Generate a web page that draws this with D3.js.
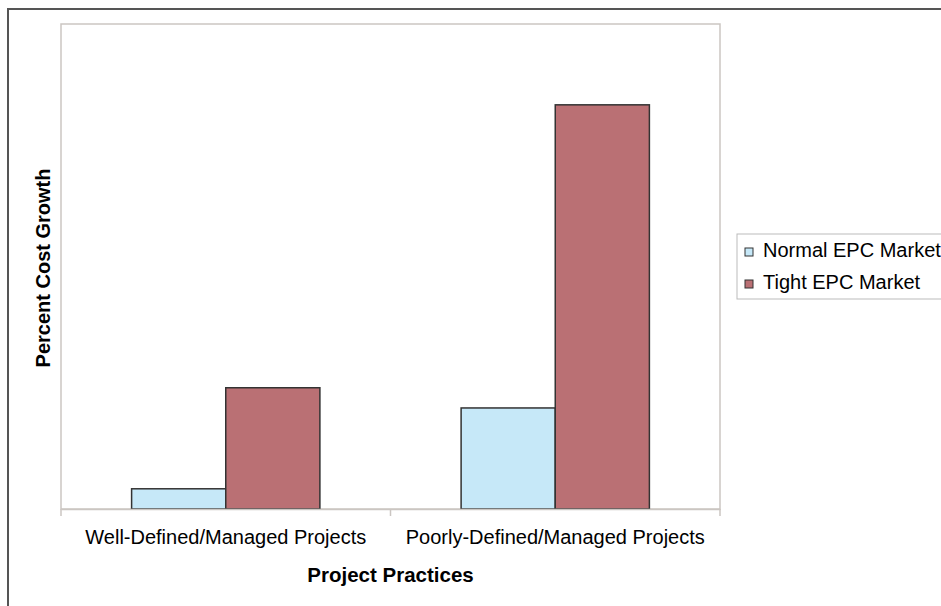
<!DOCTYPE html>
<html>
<head>
<meta charset="utf-8">
<script src="https://cdn.jsdelivr.net/npm/d3@7"></script>
<style>
  body { margin: 0; background: #fff; }
  text { font-family: "Liberation Sans", Arial, sans-serif; fill: #000; }
</style>
</head>
<body>
<svg id="chart" width="941" height="606"></svg>
<script>
// chart data
const categories = ["Well-Defined/Managed Projects", "Poorly-Defined/Managed Projects"];
const seriesNames = ["Normal EPC Market", "Tight EPC Market"];
const normalValues = [0.5, 2.5];
const tightValues = [3, 10];
const yMax = 12;

const colors = ["#c6e8f8", "#ba7074"];

const svg = d3.select("#chart");
const margin = { left: 61, top: 24, right: 221, bottom: 97 };
const width = 941 - margin.left - margin.right;
const height = 606 - margin.top - margin.bottom;

// outer frame
svg.append("rect")
  .attr("x", 8).attr("y", 9)
  .attr("width", 1000).attr("height", 1000)
  .attr("fill", "none")
  .attr("stroke", "#555")
  .attr("stroke-width", 2);

const g = svg.append("g").attr("transform", `translate(${margin.left},${margin.top})`);

const x0 = d3.scaleBand().domain(categories).range([0, width]);
const x1 = d3.scaleBand().domain(seriesNames)
  .range([0, x0.bandwidth()])
  .paddingOuter(0.75).paddingInner(0);
const y = d3.scaleLinear().domain([0, yMax]).range([height, 0]);

// plot area border
g.append("rect")
  .attr("width", width).attr("height", height)
  .attr("fill", "none")
  .attr("stroke", "#cbc6c2")
  .attr("stroke-width", 1.5);

const rows = categories.map((c, i) => ({ cat: c, vals: [normalValues[i], tightValues[i]] }));

const groups = g.selectAll("g.cat")
  .data(rows)
  .enter()
  .append("g")
  .classed("cat", true)
  .attr("transform", d => `translate(${x0(d.cat)},0)`);

groups.selectAll("rect")
  .data(d => d.vals.map((v, j) => ({ name: seriesNames[j], v: v, j: j })))
  .enter()
  .append("rect")
  .attr("x", d => x1(d.name))
  .attr("y", d => y(d.v))
  .attr("width", x1.bandwidth())
  .attr("height", d => height - y(d.v))
  .attr("fill", d => colors[d.j])
  .attr("stroke", "#333")
  .attr("stroke-width", 1.5);

// x axis
const xAxis = g.append("g")
  .attr("transform", `translate(0,${height})`)
  .call(d3.axisBottom(x0).tickSize(0).tickPadding(21));
xAxis.select(".domain").attr("stroke", "#cbc6c2").attr("stroke-width", 1.5);
xAxis.selectAll("text").style("font-size", "20px");

// tick marks between categories
const bounds = [0, x0.bandwidth(), width];
g.selectAll("line.tick-mark")
  .data(bounds)
  .enter()
  .append("line")
  .attr("x1", d => d).attr("x2", d => d)
  .attr("y1", height).attr("y2", height + 7)
  .attr("stroke", "#cbc6c2")
  .attr("stroke-width", 1.5);

// axis titles
svg.append("text")
  .attr("x", margin.left + width / 2)
  .attr("y", 582)
  .attr("text-anchor", "middle")
  .style("font-size", "20.5px")
  .style("font-weight", "bold")
  .text("Project Practices");

svg.append("text")
  .attr("transform", `translate(50,268) rotate(-90)`)
  .attr("text-anchor", "middle")
  .style("font-size", "20px")
  .style("font-weight", "bold")
  .text("Percent Cost Growth");

// legend
const legend = svg.append("g").attr("transform", "translate(737,234)");
legend.append("rect")
  .attr("width", 260).attr("height", 65)
  .attr("fill", "#fff")
  .attr("stroke", "#bbb")
  .attr("stroke-width", 1);

seriesNames.forEach((name, i) => {
  const row = legend.append("g").attr("transform", `translate(8,${14 + i * 32})`);
  row.append("rect")
    .attr("width", 8).attr("height", 8)
    .attr("fill", colors[i])
    .attr("stroke", "#333");
  row.append("text")
    .attr("x", 18).attr("y", 9)
    .style("font-size", "20px")
    .text(name);
});
</script>
</body>
</html>
